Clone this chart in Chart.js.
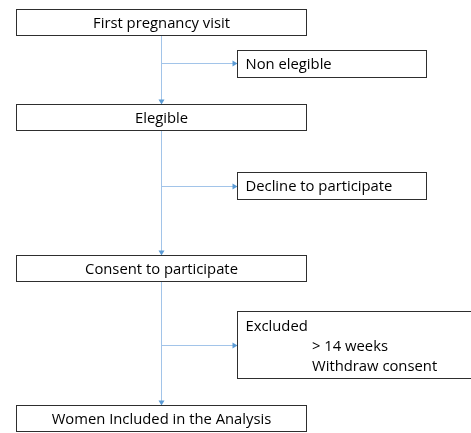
<!DOCTYPE html>
<html>
<head>
<meta charset="utf-8">
<script src="https://cdn.jsdelivr.net/npm/chart.js@4/dist/chart.umd.min.js"></script>
<style>
html,body{margin:0;padding:0;background:#fff;}
canvas{display:block;}
</style>
</head>
<body>
<canvas id="c" width="471" height="433"></canvas>
<script>
// ---- content (flowchart steps) ----
const mainSteps = ["First pregnancy visit", "Elegible", "Consent to participate", "Women Included in the Analysis"];
const sideSteps = ["Non elegible", "Decline to participate", "Excluded"];
const sideDetails = [[], [], ["> 14 weeks", "Withdraw consent"]];

// ---- layout (chart units = pixels on a 471x433 plane) ----
const layout = {
  mainX: [16.5, 306.5],
  mainY: [[9.5, 35.5], [104.5, 130.5], [255.5, 281.5], [405.5, 431.5]],
  sideX: [[237.5, 426.5], [237.5, 426.5], [237.5, 480]],
  sideY: [[50.5, 77.5], [172.5, 199.5], [311.5, 378.5]],
  spineX: 161.5,
  branchY: [63.5, 186.5, 345.5],
  detailX: 312, textPadX: 8, lineGap: 20
};
const style = {
  box: '#2e2e2e', text: '#000000', link: '#a2c4e9', arrow: '#5b9bd5',
  font: '14.8px "Open Sans", Lato, sans-serif'
};

// connector datasets built from layout
const connectors = [];
for (let i = 0; i < mainSteps.length - 1; i++) {
  connectors.push({ data: [{x: layout.spineX, y: layout.mainY[i][1]}, {x: layout.spineX, y: layout.mainY[i+1][0]}] , arrow: 'down'});
}
for (let i = 0; i < sideSteps.length; i++) {
  connectors.push({ data: [{x: layout.spineX, y: layout.branchY[i]}, {x: layout.sideX[i][0], y: layout.branchY[i]}], arrow: 'right'});
}

const flowPlugin = {
  id: 'flow',
  afterDatasetsDraw(chart) {
    const ctx = chart.ctx, xs = chart.scales.x, ys = chart.scales.y;
    const px = v => xs.getPixelForValue(v), py = v => ys.getPixelForValue(v);
    ctx.save();
    // arrowheads
    ctx.fillStyle = style.arrow;
    connectors.forEach(c => {
      const e = c.data[1];
      const x = px(e.x), y = py(e.y);
      ctx.beginPath();
      if (c.arrow === 'down') {
        ctx.moveTo(x, y); ctx.lineTo(x - 3, y - 5); ctx.lineTo(x + 3, y - 5);
      } else {
        ctx.moveTo(x, y); ctx.lineTo(x - 5, y - 3); ctx.lineTo(x - 5, y + 3);
      }
      ctx.closePath(); ctx.fill();
    });
    // boxes
    ctx.strokeStyle = style.box; ctx.lineWidth = 1;
    ctx.fillStyle = style.text; ctx.font = style.font;
    ctx.textBaseline = 'alphabetic';
    mainSteps.forEach((t, i) => {
      const x0 = px(layout.mainX[0]), x1 = px(layout.mainX[1]);
      const y0 = py(layout.mainY[i][0]), y1 = py(layout.mainY[i][1]);
      ctx.strokeRect(x0, y0, x1 - x0, y1 - y0);
      ctx.textAlign = 'center';
      ctx.fillText(t, (x0 + x1) / 2, (y0 + y1) / 2 + 5);
    });
    sideSteps.forEach((t, i) => {
      const x0 = px(layout.sideX[i][0]), x1 = px(layout.sideX[i][1]);
      const y0 = py(layout.sideY[i][0]), y1 = py(layout.sideY[i][1]);
      ctx.strokeRect(x0, y0, x1 - x0, y1 - y0);
      ctx.textAlign = 'left';
      const det = sideDetails[i];
      if (det.length === 0) {
        ctx.fillText(t, x0 + layout.textPadX, (y0 + y1) / 2 + 5);
      } else {
        const base = py(layout.branchY[i]) - 15;
        ctx.fillText(t, x0 + layout.textPadX, base);
        det.forEach((d, k) => ctx.fillText(d, px(layout.detailX), base + layout.lineGap * (k + 1)));
      }
    });
    ctx.restore();
  }
};

new Chart(document.getElementById('c'), {
  type: 'scatter',
  data: {
    datasets: connectors.map(c => ({
      data: c.data, showLine: true, borderColor: style.link, borderWidth: 1,
      pointRadius: 0, fill: false, tension: 0
    }))
  },
  options: {
    responsive: false, animation: false,
    layout: { padding: 0 },
    plugins: { legend: { display: false }, tooltip: { enabled: false } },
    scales: {
      x: { type: 'linear', min: 0, max: 471, display: false },
      y: { type: 'linear', min: 0, max: 433, reverse: true, display: false }
    }
  },
  plugins: [flowPlugin]
});
</script>
</body>
</html>
